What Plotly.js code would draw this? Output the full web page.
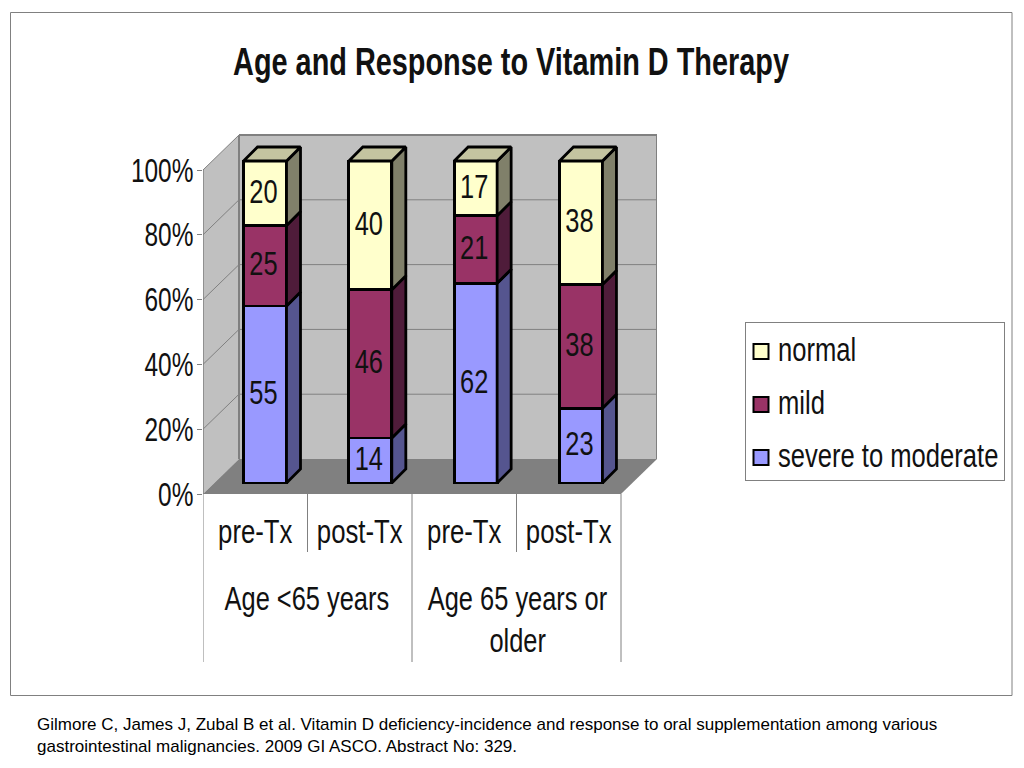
<!DOCTYPE html>
<html>
<head>
<meta charset="utf-8">
<script src="https://cdn.plot.ly/plotly-3.0.1.min.js"></script>
<style>html,body{margin:0;padding:0;background:#fff}</style>
</head>
<body>
<div id="chart" style="width:1024px;height:768px"></div>
<script>
const tickLabels = ['pre-Tx','post-Tx','pre-Tx','post-Tx'];
const severe = [55,14,62,23];
const mild = [25,46,21,38];
const normal = [20,40,17,38];
const percentTicks = [0,20,40,60,80,100];
const seriesNames = ['severe to moderate','mild','normal'];
const seriesValues = [severe,mild,normal];
const faceColors = ['#9999ff','#993366','#ffffcc'];
const sideColors = ['#55558f','#4f1c3a','#80806a'];
const topColor = '#c4c4a0';
const font = 'Liberation Sans, Arial, sans-serif';
const W=1024,H=768;
const px=v=>v/W, py=v=>1-v/H;
const centers=[0.5,1.5,2.5,3.5];
const barW=0.408, sdx=0.133, sdy=4.35, wdx=36/104.5, wdy=10.8;
const edge=2.8;

const totals=centers.map((_,i)=>seriesValues.reduce((s,a)=>s+a[i],0));
const traces=[];
const cum=centers.map(()=>0);
const sideTraces=[];
seriesValues.forEach((vals,k)=>{
  traces.push({type:'bar',x:centers,y:vals,xaxis:'x2',yaxis:'y2',width:barW,showlegend:false,
    marker:{color:faceColors[k],line:{color:'#000',width:edge}},
    text:vals.map(String),textposition:'inside',insidetextanchor:'middle',textangle:0,constraintext:'none',
    insidetextfont:{family:font,size:33,color:'#111'},hoverinfo:'skip'});
  const xs=[],ys=[];
  centers.forEach((c,i)=>{
    const lo=cum[i], hi=lo+vals[i]/totals[i]*100, r=c+barW/2;
    xs.push(r,r+sdx,r+sdx,r,r,null); ys.push(lo,lo+sdy,hi+sdy,hi,lo,null);
    cum[i]=hi;
  });
  sideTraces.push({type:'scatter',mode:'lines',x:xs,y:ys,xaxis:'x2',yaxis:'y2',fill:'toself',fillcolor:sideColors[k],
    line:{color:'#000',width:edge},showlegend:false,hoverinfo:'skip'});
});
const tx=[],ty=[];
centers.forEach(c=>{const l=c-barW/2,r=c+barW/2;tx.push(l,l+sdx,r+sdx,r,l,null);ty.push(100,100+sdy,100+sdy,100,100,null);});
sideTraces.push({type:'scatter',mode:'lines',x:tx,y:ty,xaxis:'x2',yaxis:'y2',fill:'toself',fillcolor:topColor,
  line:{color:'#000',width:edge},showlegend:false,hoverinfo:'skip'});

const legendTraces=[2,1,0].map(k=>({type:'scatter',mode:'markers',x:[null],y:[null],name:seriesNames[k],legendgroup:seriesNames[k],
  marker:{symbol:'square',size:15,color:faceColors[k],line:{color:'#000',width:2}},hoverinfo:'skip'}));

const shapes=[];
const gray='#808080';
shapes.push({type:'rect',xref:'paper',yref:'paper',x0:px(10.5),x1:px(1012),y0:py(12.5),y1:py(695.5),line:{color:gray,width:1},layer:'below'});
const poly=(pts,fill)=>({type:'path',xref:'x',yref:'y',layer:'below',fillcolor:fill,
  line:{color:fill,width:0},path:'M'+pts.map(p=>p.join(',')).join('L')+'Z'});
shapes.push(poly([[0,0],[0,100],[wdx,100+wdy],[wdx,wdy]],'#c0c0c0'));
shapes.push(poly([[wdx,wdy],[wdx,100+wdy],[4+wdx,100+wdy],[4+wdx,wdy]],'#c0c0c0'));
shapes.push(poly([[0,0],[wdx,wdy],[4+wdx,wdy],[4,0]],gray));
percentTicks.forEach(t=>{
  const ln=(x0,y0,x1,y1,w)=>({type:'line',xref:'x',yref:'y',x0,y0,x1,y1,layer:'below',line:{color:gray,width:w||1}});
  if(t>0){shapes.push(ln(0,t,wdx,t+wdy),ln(wdx,t+wdy,4+wdx,t+wdy,t===100?2:1));}
});
shapes.push({type:'line',xref:'x',yref:'y',x0:wdx,y0:wdy,x1:wdx,y1:100+wdy,layer:'below',line:{color:gray,width:2}});
shapes.push({type:'line',xref:'x',yref:'y',x0:4+wdx,y0:wdy,x1:4+wdx,y1:100+wdy,layer:'below',line:{color:gray,width:2}});
shapes.push({type:'line',xref:'x',yref:'y',x0:0,y0:0,x1:0,y1:100,layer:'below',line:{color:gray,width:1.5}});
shapes.push({type:'line',xref:'x',yref:'y',x0:0,y0:0,x1:4,y1:0,layer:'below',line:{color:gray,width:1.5}});
[[0,662],[1,552],[2,662],[3,552],[4,662]].forEach(([x,b])=>{
  shapes.push({type:'line',xref:'x',yref:'paper',x0:x,x1:x,y0:py(494),y1:py(b),line:{color:gray,width:1}});
});

const groupLabel=(text,xc,yp)=>({text,xref:'paper',yref:'paper',x:px(xc),y:py(yp),xanchor:'center',yanchor:'middle',showarrow:false,
  font:{family:font,size:33,color:'#111'}});
const annotations=[
  groupLabel('Age &lt;65 years',307,598),
  groupLabel('Age 65 years or',517,598),
  groupLabel('older',517,640),
  {text:'Gilmore C, James J, Zubal B et al. Vitamin D deficiency-incidence and response to oral supplementation among various<br>gastrointestinal malignancies. 2009 GI ASCO. Abstract No: 329.',
   xref:'paper',yref:'paper',x:px(34.5),y:py(735),xanchor:'left',yanchor:'middle',align:'left',showarrow:false,
   font:{family:font,size:17,color:'#000'}}
];

const dom=[px(203),px(657)], domY=[py(494),py(134)];
const barScale=3.22, barLift=11/barScale, barSpan=360/barScale;
const layout={
  width:W,height:H,autosize:false,margin:{l:0,r:0,t:0,b:0,pad:0},paper_bgcolor:'#fff',plot_bgcolor:'rgba(0,0,0,0)',
  title:{text:'Age and Response to Vitamin D Therapy',xref:'paper',yref:'paper',x:px(511),y:py(61.5),xanchor:'center',yanchor:'middle',
    font:{family:font,size:39,weight:'bold',color:'#111'}},
  barmode:'stack',barnorm:'percent',
  xaxis:{domain:dom,range:[0,4+wdx],tickmode:'array',tickvals:centers,ticktext:tickLabels,showgrid:false,zeroline:false,showline:false,
    ticks:'',ticklabelstandoff:15,tickangle:0,tickfont:{family:font,size:33,color:'#111'},fixedrange:true},
  yaxis:{domain:domY,range:[0,100+wdy+0.31],tickmode:'array',tickvals:percentTicks,ticktext:percentTicks.map(v=>v+'%'),showgrid:false,zeroline:false,showline:false,
    ticks:'outside',ticklen:5,tickcolor:gray,tickwidth:1,ticklabelstandoff:-3,tickfont:{family:font,size:33,color:'#111'},fixedrange:true},
  xaxis2:{domain:dom,overlaying:'x',anchor:'y2',range:[-0.0888,4.222],visible:false,fixedrange:true},
  yaxis2:{domain:domY,overlaying:'y',anchor:'x2',range:[-barLift,barSpan-barLift],visible:false,fixedrange:true},
  shapes,annotations,
  legend:{x:px(737),y:py(328),xanchor:'left',yanchor:'top',bgcolor:'#fff',bordercolor:gray,borderwidth:1,
    traceorder:'grouped',tracegroupgap:18,font:{family:font,size:24.6,color:'#111'}},
  showlegend:true
};
// The reference's lettering is tall and condensed: keep real text, narrowed horizontally.
function narrow(sel,f,keep){
  document.querySelectorAll(sel).forEach(t=>{
    if(keep&&keep(t))return;
    const L=t.getComputedTextLength();
    t.setAttribute('textLength',(L*f).toFixed(1));
    t.setAttribute('lengthAdjust','spacingAndGlyphs');
  });
}
Plotly.newPlot('chart',traces.concat(sideTraces,legendTraces),layout,{displayModeBar:false,staticPlot:true}).then(()=>{
  narrow('.gtitle',0.74);
  narrow('.ytick text',0.74);
  narrow('.xtick text',0.78);
  narrow('.bartext',0.77);
  narrow('.annotation-text',0.77,t=>t.textContent.startsWith('Gilmore'));
  document.querySelectorAll('.bartext').forEach(t=>{
    t.setAttribute('x',parseFloat(t.getAttribute('x')||0)-1.5);
    t.setAttribute('y',parseFloat(t.getAttribute('y')||0)-2);
  });
  // legend text: same stretched proportions, scaled about its own anchor
  document.querySelectorAll('.legendtext').forEach(t=>{
    const x=parseFloat(t.getAttribute('x')||0), y=parseFloat(t.getAttribute('y')||0);
    t.setAttribute('transform',`translate(${x},${y}) scale(1.04,1.34) translate(${-x},${-y})`);
  });
  document.querySelectorAll('.legendpoints').forEach(g=>g.setAttribute('transform','translate(3,0)'));
  const bg=document.querySelector('.legend rect.bg');
  bg.setAttribute('x',8.5);bg.setAttribute('y',-5.5);bg.setAttribute('width',259);bg.setAttribute('height',158);
  const sb=document.querySelector('.legend .scrollbox');
  if(sb)sb.removeAttribute('clip-path');
});
</script>
</body>
</html>
